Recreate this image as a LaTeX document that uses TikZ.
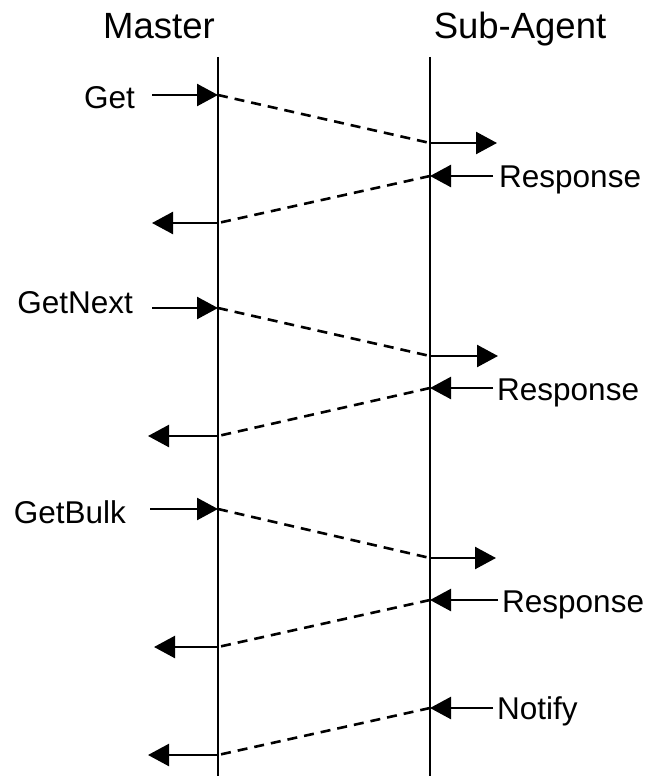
\documentclass[tikz,border=0pt]{standalone}
\usepackage{fontspec}
\setmainfont{Liberation Sans}
\usepackage{tikz}
\usetikzlibrary{
  calc,
  positioning,
  arrows.meta
}

\begin{document}
\begin{tikzpicture}[
  x=1pt, y=-1pt,
  title/.style  = {inner sep=0pt, font=\fontsize{36.5}{40}\selectfont},
  msg/.style    = {inner sep=0pt, font=\fontsize{31.5}{36}\selectfont},
  life/.style   = {line width=2.4pt},
  arrow/.style  = {line width=2.4pt, -{Triangle[length=21pt, width=22pt]}},
  hop/.style    = {line width=2.6pt, dash pattern=on 10pt off 7pt}
]
  \useasboundingbox (0,0) rectangle (648,776);

  % Titles and lifelines
  \node[title, anchor=base] (master) at (159,38) {Master};
  \node[title, anchor=base] (agent) at (520,38) {Sub-Agent};
  \coordinate (mtop) at (218,57);
  \coordinate (mbot) at (218,776);
  \coordinate (atop) at (430,57);
  \coordinate (abot) at (430,776);
  \draw[life] (mtop) -- (mbot);
  \draw[life] (atop) -- (abot);

  % Get
  \node[msg, anchor=base east] (get) at (135,108) {Get};
  \coordinate (get-tail) at (152,95);
  \coordinate (m1) at (218,95);
  \coordinate (a1) at (430,143);
  \coordinate (a1-out) at (497,143);
  \node[msg, anchor=base west] (resp1) at (499,187) {Response};
  \coordinate (r1-tail) at (493,176);
  \coordinate (a2) at (430,176);
  \coordinate (m2) at (218,223);
  \coordinate (m2-out) at (152,223);
  \draw[arrow] (get-tail) -- (m1);
  \draw[hop] (m1) -- (a1);
  \draw[arrow] (a1) -- (a1-out);
  \draw[arrow] (r1-tail) -- (a2);
  \draw[hop] (a2) -- (m2);
  \draw[arrow] (m2) -- (m2-out);

  % GetNext
  \node[msg, anchor=base east] (getnext) at (133,313) {GetNext};
  \coordinate (getnext-tail) at (152,308);
  \coordinate (m3) at (218,308);
  \coordinate (a3) at (430,356);
  \coordinate (a3-out) at (498,356);
  \node[msg, anchor=base west] (resp2) at (497,400) {Response};
  \coordinate (r2-tail) at (493,388);
  \coordinate (a4) at (430,388);
  \coordinate (m4) at (218,436);
  \coordinate (m4-out) at (148,436);
  \draw[arrow] (getnext-tail) -- (m3);
  \draw[hop] (m3) -- (a3);
  \draw[arrow] (a3) -- (a3-out);
  \draw[arrow] (r2-tail) -- (a4);
  \draw[hop] (a4) -- (m4);
  \draw[arrow] (m4) -- (m4-out);

  % GetBulk
  \node[msg, anchor=base east] (getbulk) at (126,523) {GetBulk};
  \coordinate (getbulk-tail) at (150,509);
  \coordinate (m5) at (218,509);
  \coordinate (a5) at (430,558);
  \coordinate (a5-out) at (496,558);
  \node[msg, anchor=base west] (resp3) at (502,612) {Response};
  \coordinate (r3-tail) at (498,600);
  \coordinate (a6) at (430,600);
  \coordinate (m6) at (218,647);
  \coordinate (m6-out) at (154,647);
  \draw[arrow] (getbulk-tail) -- (m5);
  \draw[hop] (m5) -- (a5);
  \draw[arrow] (a5) -- (a5-out);
  \draw[arrow] (r3-tail) -- (a6);
  \draw[hop] (a6) -- (m6);
  \draw[arrow] (m6) -- (m6-out);

  % Notify
  \node[msg, anchor=base west] (notify) at (497,719) {Notify};
  \coordinate (n-tail) at (493,708);
  \coordinate (a7) at (430,708);
  \coordinate (m7) at (218,755);
  \coordinate (m7-out) at (148,755);
  \draw[arrow] (n-tail) -- (a7);
  \draw[hop] (a7) -- (m7);
  \draw[arrow] (m7) -- (m7-out);

\end{tikzpicture}
\end{document}
